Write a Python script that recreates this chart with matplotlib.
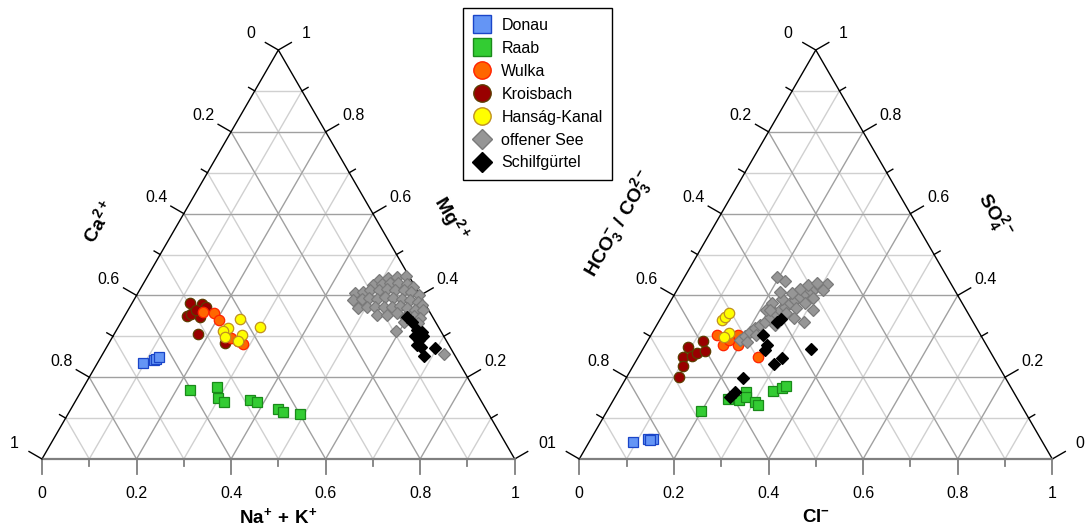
import matplotlib
matplotlib.use('Agg')
import matplotlib.pyplot as plt
from matplotlib.lines import Line2D
import numpy as np

plt.rcParams['font.family'] = ['Liberation Sans', 'DejaVu Sans']
plt.rcParams['mathtext.default'] = 'regular'

# Kationen: (Na+ + K+, Mg2+), Ca2+ = Rest
kat_donau = [(0.096, 0.235), (0.117, 0.241), (0.118, 0.245), (0.122, 0.250)]
kat_raab = [(0.229, 0.168), (0.282, 0.177), (0.297, 0.149), (0.315, 0.139), (0.367, 0.145),
            (0.386, 0.139), (0.437, 0.123), (0.453, 0.114), (0.491, 0.111)]
kat_wulka = [(0.186, 0.356), (0.205, 0.340), (0.285, 0.281), (0.252, 0.295), (0.161, 0.360),
             (0.270, 0.289)]
kat_kroisbach = [(0.123, 0.381), (0.149, 0.378), (0.162, 0.372), (0.131, 0.350), (0.138, 0.354),
                 (0.162, 0.346), (0.177, 0.305), (0.246, 0.283), (0.144, 0.364)]
kat_hansag = [(0.247, 0.342), (0.300, 0.322), (0.234, 0.320), (0.227, 0.313), (0.272, 0.302),
              (0.238, 0.299), (0.271, 0.289)]
kat_see = [(0.493, 0.438), (0.512, 0.442), (0.528, 0.444), (0.546, 0.448),
           (0.488, 0.425), (0.505, 0.428), (0.521, 0.430), (0.538, 0.431), (0.559, 0.428), (0.575, 0.421),
           (0.460, 0.405), (0.475, 0.409), (0.487, 0.413), (0.506, 0.412), (0.522, 0.415), (0.540, 0.413),
           (0.559, 0.412), (0.577, 0.409), (0.596, 0.401),
           (0.464, 0.389), (0.481, 0.390), (0.496, 0.393), (0.514, 0.390), (0.528, 0.395), (0.547, 0.393),
           (0.566, 0.390), (0.584, 0.389), (0.602, 0.385), (0.615, 0.377),
           (0.485, 0.368), (0.501, 0.372), (0.518, 0.372), (0.537, 0.371), (0.554, 0.372), (0.570, 0.374),
           (0.589, 0.368), (0.607, 0.364), (0.625, 0.364),
           (0.532, 0.352), (0.553, 0.352), (0.572, 0.356), (0.594, 0.348), (0.611, 0.350), (0.628, 0.344),
           (0.597, 0.336), (0.630, 0.332), (0.592, 0.313), (0.722, 0.257)]
kat_schilf = [(0.599, 0.348), (0.614, 0.336), (0.635, 0.315), (0.648, 0.311), (0.639, 0.301),
              (0.653, 0.291), (0.656, 0.301), (0.653, 0.279), (0.665, 0.273), (0.696, 0.271),
              (0.682, 0.253)]

# Anionen: (Cl-, SO4 2-), HCO3-/CO3 2- = Rest
an_donau = [(0.093, 0.042), (0.122, 0.048), (0.132, 0.048), (0.127, 0.047)]
an_raab = [(0.198, 0.118), (0.242, 0.146), (0.266, 0.144), (0.270, 0.165), (0.276, 0.152),
           (0.301, 0.140), (0.311, 0.132), (0.327, 0.166), (0.341, 0.173), (0.347, 0.179)]
an_wulka = [(0.140, 0.303), (0.165, 0.279), (0.183, 0.303), (0.197, 0.279), (0.253, 0.250),
            (0.170, 0.291)]
an_kroisbach = [(0.094, 0.273), (0.095, 0.250), (0.111, 0.253), (0.119, 0.258), (0.117, 0.289),
                (0.133, 0.265), (0.105, 0.227), (0.111, 0.200)]
an_hansag = [(0.131, 0.340), (0.134, 0.348), (0.139, 0.356), (0.161, 0.309), (0.156, 0.298)]
an_see = [(0.194, 0.291), (0.200, 0.301), (0.205, 0.311), (0.212, 0.320), (0.218, 0.328),
          (0.225, 0.336), (0.230, 0.346), (0.236, 0.356), (0.242, 0.364), (0.249, 0.372),
          (0.255, 0.381), (0.262, 0.389), (0.268, 0.397), (0.275, 0.405), (0.282, 0.412),
          (0.290, 0.417), (0.298, 0.421), (0.309, 0.428),
          (0.194, 0.446), (0.217, 0.436), (0.216, 0.381), (0.213, 0.364), (0.233, 0.390),
          (0.247, 0.405), (0.259, 0.415), (0.272, 0.425), (0.286, 0.431), (0.260, 0.356),
          (0.275, 0.368), (0.286, 0.382), (0.298, 0.393), (0.313, 0.364), (0.306, 0.336),
          (0.281, 0.344), (0.250, 0.328), (0.223, 0.303), (0.210, 0.287), (0.310, 0.412),
          (0.220, 0.409), (0.221, 0.364)]
an_schilf = [(0.255, 0.342), (0.249, 0.336), (0.236, 0.303), (0.257, 0.279), (0.259, 0.267),
             (0.296, 0.232), (0.306, 0.246), (0.356, 0.268), (0.248, 0.197), (0.247, 0.165),
             (0.243, 0.151)]

names = ['Donau', 'Raab', 'Wulka', 'Kroisbach', 'Hanság-Kanal', 'offener See', 'Schilfgürtel']
kationen = [kat_donau, kat_raab, kat_wulka, kat_kroisbach, kat_hansag, kat_see, kat_schilf]
anionen = [an_donau, an_raab, an_wulka, an_kroisbach, an_hansag, an_see, an_schilf]

# marker, fill, edge, size
styles = [('s', '#6495f5', '#1a45c8', 7),
          ('s', '#33cc33', '#1a8a1a', 7),
          ('o', '#ff6600', '#ff2200', 7.5),
          ('o', '#990000', '#5c3c00', 7.5),
          ('o', '#ffff00', '#c09020', 7.5),
          ('D', '#969696', '#7a7a7a', 6),
          ('D', '#000000', '#000000', 6)]
draw_order = [0, 1, 3, 2, 4, 5, 6]

W, H = 1086, 531
fig = plt.figure(figsize=(W / 100, H / 100), dpi=100)

TRI_H = 409
BASE = 459


def draw_triangle(left_px, width_px, groups, bottom_title, left_title, right_title, lt_pos, rt_pos):
    ax = fig.add_axes([left_px / W, (H - BASE) / H, width_px / W, TRI_H / H])
    ax.set_xlim(0, 1)
    ax.set_ylim(0, 1)
    ax.axis('off')
    sx, sy = 1.0 / width_px, 1.0 / TRI_H

    # grid
    for k in range(1, 10):
        t = k / 10
        c = '#a0a0a0' if k % 2 == 0 else '#d0d0d0'
        z = 1.1 if k % 2 == 0 else 1
        ax.plot([0.5 * t, 1 - 0.5 * t], [t, t], color=c, lw=1, zorder=z)
        ax.plot([t, t + 0.5 * (1 - t)], [0, 1 - t], color=c, lw=1, zorder=z)
        ax.plot([1 - t, 0.5 * (1 - t)], [0, 1 - t], color=c, lw=1, zorder=z)

    # frame
    ax.plot([0, 0.5, 1], [0, 1, 0], color='black', lw=1, zorder=2, clip_on=False)
    ax.plot([0, 1], [0, 0], color='#7f7f7f', lw=1.6, zorder=2, clip_on=False)

    # ticks + labels
    for k in range(11):
        t = k / 10
        L = 15 if k % 2 == 0 else 7
        lab = f'{t:g}'
        ax.plot([t, t], [0, -L * sy], color='#7f7f7f', lw=1.3, clip_on=False)
        px, py = 0.5 * (1 - t), 1 - t
        dx, dy = -0.866 * sx, 0.5 * sy
        ax.plot([px, px + L * dx], [py, py + L * dy], color='black', lw=1, clip_on=False)
        qx, qy = 1 - 0.5 * t, t
        ex, ey = 0.866 * sx, 0.5 * sy
        ax.plot([qx, qx + L * ex], [qy, qy + L * ey], color='black', lw=1, clip_on=False)
        if k % 2 == 0:
            ax.text(t, -34 * sy, lab, ha='center', va='center', fontsize=11.5)
            ax.text(px + 32 * dx, py + 32 * dy, lab, ha='center', va='center', fontsize=11.5)
            ax.text(qx + 32 * ex, qy + 32 * ey, lab, ha='center', va='center', fontsize=11.5)

    ax.text(0.5, -58 * sy, bottom_title, ha='center', va='center', fontsize=13.5,
            fontweight='bold')
    ax.text(lt_pos[0], lt_pos[1], left_title, ha='center', va='center', fontsize=14,
            fontweight='bold', rotation=60, rotation_mode='anchor')
    ax.text(rt_pos[0], rt_pos[1], right_title, ha='center', va='center', fontsize=14,
            fontweight='bold', rotation=-60, rotation_mode='anchor')

    for n, i in enumerate(draw_order):
        m, fc, ec, ms = styles[i]
        pts = np.array(groups[i])
        b, r = pts[:, 0], pts[:, 1]
        ax.plot(b + 0.5 * r, r, linestyle='none', marker=m, markersize=ms,
                markerfacecolor=fc, markeredgecolor=ec, markeredgewidth=0.9,
                zorder=3 + n, clip_on=False)
    return ax


draw_triangle(42, 472.7, kationen, r'$Na^{+}\ {+}\ K^{+}$', r'$Ca^{2+}$', r'$Mg^{2+}$',
              (0.119, 0.58), (0.865, 0.588))
draw_triangle(579.3, 473, anionen, r'$Cl^{-}$', r'$HCO_3^{-}\ /\ CO_3^{2-}$', r'$SO_4^{2-}$',
              (0.084, 0.576), (0.878, 0.597))

handles = []
for i, name in enumerate(names):
    m, fc, ec, ms = styles[i]
    handles.append(Line2D([], [], linestyle='none', marker=m,
                          markersize=12.5 if m != 'D' else 10,
                          markerfacecolor=fc, markeredgecolor=ec, markeredgewidth=1,
                          label=name))
leg = fig.legend(handles=handles, loc='upper left', bbox_to_anchor=(463 / W, 1 - 8 / H),
                 borderaxespad=0, fontsize=11.5, frameon=True, fancybox=False,
                 edgecolor='black', framealpha=1, borderpad=0.6, handlelength=1.2,
                 handletextpad=0.6, labelspacing=0.5)
leg.get_frame().set_linewidth(1)

fig.savefig('out.png', dpi=100)
